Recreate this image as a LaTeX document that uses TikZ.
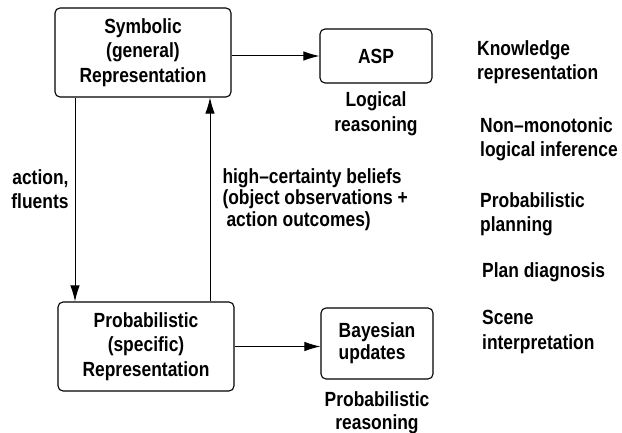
\documentclass[tikz,border=0pt]{standalone}
\usepackage{fontspec}
\setmainfont{Liberation Sans}[FakeStretch=0.85]
\usetikzlibrary{arrows.meta,positioning}

\tikzset{
  block/.style={draw, rounded corners=5pt, line width=1.1pt, align=center, inner sep=1pt},
  flow/.style={>={Latex[length=16pt,width=9.5pt]}, ->, line width=1pt},
  note/.style={inner sep=0pt, align=left, anchor=north west},
}

\begin{document}
\begin{tikzpicture}[x=1pt,y=-1pt,font=\bfseries\fontsize{20.5}{24.5}\selectfont]
\useasboundingbox (0,0) rectangle (622,433);

% the two representations
\node[block, minimum width=176pt, minimum height=89pt] (sym) at (143,52.5) {Symbolic\\(general)\\Representation};
\node[block, minimum width=176pt, minimum height=89pt] (prob) at (146,346.5) {Probabilistic\\(specific)\\Representation};

% reasoners
\node[block, minimum width=112pt, minimum height=54pt] (asp) at (376,56) {ASP};
\node[block, minimum width=112pt, minimum height=71pt, align=left, font=\bfseries\fontsize{20.5}{22}\selectfont] (bayes) at (377,343.5) {Bayesian\\updates};
\node[inner sep=0pt, align=center, below=8pt of asp] (logic) {Logical\\reasoning};
\node[inner sep=0pt, align=center, below=12pt of bayes, font=\bfseries\fontsize{20.5}{23}\selectfont] (probr) {Probabilistic\\reasoning};

% links
\draw[flow] (sym.east |- asp.west) -- (asp.west);
\draw[flow] (prob.east) -- (prob.east -| bayes.west);
\draw[flow] ([xshift=-68pt]sym.south) -- ([xshift=-71pt]prob.north)
  node[pos=0.45, left=6pt, inner sep=0pt, align=right] (act) {action,\\fluents};
\draw[flow] ([xshift=64pt]prob.north) -- ([xshift=67pt]sym.south)
  node[midway, right=12pt, inner sep=0pt, align=left, font=\bfseries\fontsize{20.5}{21.5}\selectfont] (beliefs)
  {high--certainty beliefs\\(object observations +\\\hspace*{4pt}action outcomes)};

% topics
\node[note] (kr) at (477,40) {Knowledge\\representation};
\node[note] (nm) at (480,117) {Non--monotonic\\logical inference};
\node[note] (pp) at (480,192) {Probabilistic\\planning};
\node[note] (pd) at (482,262) {Plan diagnosis};
\node[note] (si) at (482,310) {Scene\\interpretation};
\end{tikzpicture}
\end{document}
